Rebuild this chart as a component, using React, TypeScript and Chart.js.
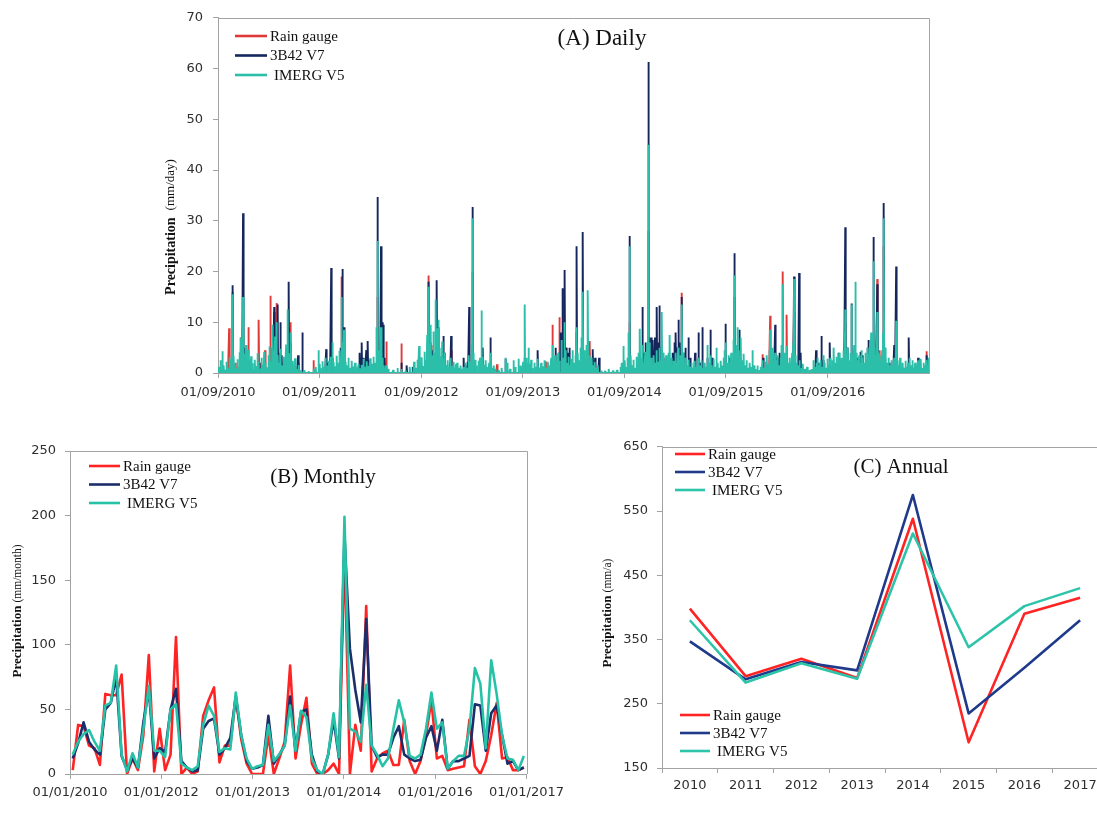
import { useEffect, useRef } from "react";
import { Chart, registerables } from "chart.js";

Chart.register(...registerables);

const SERIES_NAMES = ["Rain gauge", "3B42 V7", "IMERG V5"];

// ---------- (A) Daily: day index counted from 01/09/2010 ----------
const DAILY_DAYS = 2557;
const dailyTickDays = [0, 365, 731, 1096, 1461, 1826, 2192];
const dailyTickLabels = ["01/09/2010", "01/09/2011", "01/09/2012", "01/09/2013", "01/09/2014", "01/09/2015", "01/09/2016"];

// [day, mm/day] for rainy days; all other days are dry (0)
const gaugeDailyEvents: [number, number][] = [
  [40, 8.8], [44, 2.0], [53, 16.0], [64, 2.0], [81, 7.0], [90, 5.0], [110, 9.0], [118, 2.5], [147, 10.5], [152, 2.0],
  [169, 4.5], [189, 15.2], [196, 5.0], [202, 12.0], [211, 13.8], [216, 4.0], [255, 9.0], [260, 10.0], [290, 2.0],
  [343, 2.5], [407, 3.0], [444, 19.0], [574, 15.0], [605, 6.2], [660, 5.8], [756, 19.2], [769, 5.5], [787, 5.0],
  [838, 4.5], [915, 20.0], [948, 3.0], [1003, 1.7], [1103, 3.0], [1178, 2.3], [1184, 2.0], [1202, 9.5], [1227, 11.0],
  [1264, 2.5], [1290, 8.0], [1337, 6.3], [1480, 10.0], [1547, 28.0], [1668, 15.8], [1857, 15.0], [1957, 3.7],
  [1985, 11.3], [2031, 20.0], [2045, 11.5], [2071, 12.0], [2255, 10.0], [2370, 18.5], [2379, 4.5], [2394, 25.0],
  [2548, 4.3],
];

const trmmDailyEvents: [number, number][] = [
  [53, 17.3], [90, 31.5], [95, 5.0], [150, 2.0], [202, 13.0], [207, 5.0], [215, 13.5], [224, 10.0], [230, 3.5],
  [255, 18.0], [259, 6.0], [288, 3.5], [303, 8.0], [389, 4.7], [396, 2.0], [407, 20.7], [412, 3.0], [440, 5.0],
  [448, 20.5], [453, 9.0], [505, 1.5], [510, 4.0], [517, 6.0], [522, 3.0], [528, 2.0], [533, 4.5], [539, 6.3],
  [545, 2.5], [574, 34.7], [586, 25.0], [591, 10.0], [594, 9.5], [600, 3.0], [660, 2.0], [679, 1.5], [700, 1.2],
  [756, 18.0], [763, 6.0], [771, 4.5], [787, 18.3], [791, 9.0], [811, 7.3], [816, 4.0], [838, 7.3], [884, 3.0],
  [890, 1.5], [897, 2.2], [903, 13.0], [915, 32.7], [952, 5.0], [980, 7.0], [1035, 2.8], [1150, 4.5], [1208, 2.0],
  [1214, 5.0], [1226, 4.0], [1233, 8.0], [1238, 16.7], [1243, 6.0], [1247, 20.3], [1252, 5.0], [1258, 4.0],
  [1264, 5.0], [1290, 25.0], [1312, 27.8], [1348, 4.7], [1356, 3.0], [1370, 3.0], [1480, 27.0], [1526, 13.0],
  [1532, 4.0], [1538, 6.0], [1547, 61.3], [1551, 7.0], [1555, 5.0], [1559, 7.0], [1563, 6.5], [1567, 4.0],
  [1571, 7.0], [1575, 5.5], [1578, 13.0], [1583, 6.0], [1587, 13.3], [1592, 5.0], [1597, 4.0], [1602, 3.0],
  [1610, 2.0], [1620, 3.0], [1635, 4.0], [1641, 6.0], [1646, 8.0], [1650, 5.0], [1655, 10.5], [1660, 6.0],
  [1668, 15.0], [1675, 4.0], [1680, 5.0], [1691, 7.0], [1699, 3.0], [1715, 4.0], [1728, 8.0], [1735, 2.0],
  [1741, 9.0], [1760, 3.0], [1770, 8.5], [1778, 3.0], [1825, 9.7], [1840, 3.0], [1857, 23.6], [1875, 8.5],
  [1960, 3.0], [2003, 9.5], [2010, 3.0], [2020, 4.0], [2071, 19.0], [2089, 19.7], [2095, 4.0], [2150, 4.5],
  [2160, 2.0], [2170, 7.3], [2176, 2.5], [2200, 6.0], [2230, 4.0], [2255, 28.7], [2262, 5.0], [2278, 13.7],
  [2300, 3.0], [2310, 4.2], [2318, 3.5], [2336, 5.0], [2340, 6.5], [2357, 26.8], [2370, 17.5], [2394, 33.5],
  [2415, 2.0], [2431, 5.5], [2438, 21.0], [2484, 7.0], [2517, 3.0], [2548, 3.5],
];

const imergDailyEvents: [number, number][] = [
  [4, 1.2], [9, 2.5], [13, 0.8], [16, 4.3], [21, 1.5], [26, 0.6], [31, 2.2], [36, 1.0], [41, 3.1], [45, 0.7],
  [49, 2.6], [53, 15.5], [57, 3.4], [61, 1.8], [66, 0.9], [70, 2.7], [75, 1.3], [79, 4.1], [83, 7.0], [87, 2.4],
  [90, 15.0], [96, 3.8], [101, 5.5], [105, 2.1], [110, 4.6], [114, 1.2], [119, 3.3], [124, 1.9], [128, 0.8],
  [133, 2.6], [138, 1.4], [142, 3.9], [147, 2.2], [152, 0.9], [157, 3.0], [162, 1.6], [166, 4.2], [171, 2.0],
  [176, 1.1], [181, 3.5], [186, 5.2], [190, 2.3], [196, 9.5], [200, 4.4], [205, 7.2], [211, 10.0], [215, 3.6],
  [220, 2.0], [225, 4.8], [230, 1.5], [235, 3.2], [240, 2.7], [245, 5.6], [251, 12.5], [256, 3.9], [262, 8.0],
  [267, 2.4], [272, 1.1], [277, 2.9], [283, 0.8], [290, 1.6], [297, 0.6],
  [310, 0.5], [325, 0.4], [343, 0.8], [352, 1.2],
  [361, 4.5], [366, 1.8], [371, 0.9], [376, 2.3], [381, 1.2], [387, 3.0], [393, 1.5], [399, 2.4], [404, 3.2],
  [411, 6.0], [416, 2.1], [421, 1.3], [427, 3.4], [432, 2.0], [438, 4.4], [444, 15.0], [448, 6.0], [453, 8.5],
  [458, 2.2], [463, 1.5], [469, 3.0], [475, 1.0], [481, 2.4], [487, 1.3], [493, 2.0], [499, 1.1], [505, 1.8],
  [511, 0.9], [517, 1.6], [523, 2.8], [529, 1.2], [535, 2.3], [541, 1.4], [547, 2.9], [553, 1.8], [559, 3.2],
  [565, 2.0], [570, 9.0], [574, 26.0], [578, 4.5], [586, 9.0], [590, 3.0], [596, 1.5], [604, 1.5], [612, 0.8],
  [630, 0.6], [645, 1.0], [660, 0.8], [675, 0.5], [690, 1.2], [705, 2.2], [712, 1.0], [718, 2.6], [723, 5.3],
  [728, 2.0], [733, 3.1], [738, 1.4], [743, 4.2], [748, 2.5], [752, 7.5], [756, 17.0], [760, 5.8], [765, 9.5],
  [769, 3.5], [774, 8.2], [778, 4.0], [783, 14.5], [787, 6.0], [790, 8.8], [793, 10.5], [797, 5.0], [802, 3.3],
  [806, 6.2], [811, 2.8], [816, 4.0], [821, 1.6], [826, 2.5], [831, 1.2], [836, 3.0], [841, 1.4], [846, 2.2],
  [851, 0.9], [856, 1.8], [860, 2.0], [866, 1.0], [872, 1.5], [878, 0.8], [884, 1.2], [890, 2.0], [896, 1.0],
  [902, 3.5], [906, 2.2], [911, 5.5], [915, 30.5], [919, 4.0], [924, 2.6], [930, 1.5], [936, 2.4], [942, 3.0],
  [948, 12.3], [952, 3.2], [957, 1.6], [963, 2.5], [969, 1.2], [975, 2.0], [980, 4.0], [986, 1.0], [992, 1.5],
  [998, 0.8],
  [1010, 0.6], [1020, 1.0], [1035, 3.0], [1040, 2.0], [1050, 0.8], [1062, 2.5], [1070, 1.2], [1080, 2.8], [1088, 1.5],
  [1097, 2.2], [1103, 13.5], [1108, 3.0], [1112, 2.0], [1117, 5.0], [1121, 1.8], [1126, 2.6], [1131, 1.0],
  [1137, 2.0], [1143, 1.2], [1150, 2.8], [1156, 1.1], [1162, 2.0], [1168, 1.3], [1174, 2.5], [1180, 1.0],
  [1186, 2.2], [1192, 1.5], [1198, 3.0], [1202, 5.5], [1207, 2.0], [1212, 3.5], [1218, 1.8], [1223, 4.0],
  [1228, 2.4], [1235, 6.5], [1240, 3.0], [1246, 10.0], [1250, 4.5], [1255, 2.0], [1260, 3.2], [1265, 1.5],
  [1270, 2.8], [1275, 4.5], [1280, 2.0], [1285, 3.5], [1290, 9.0], [1294, 4.0], [1299, 2.5], [1304, 5.0],
  [1308, 7.0], [1312, 16.0], [1316, 4.5], [1320, 3.0], [1325, 5.5], [1330, 16.3], [1334, 3.5], [1339, 2.0],
  [1344, 3.0], [1349, 1.5], [1355, 2.2], [1360, 1.0], [1366, 1.5],
  [1378, 0.5], [1392, 0.4], [1405, 0.8], [1420, 0.5], [1435, 0.6], [1448, 1.2],
  [1452, 2.0], [1458, 5.3], [1463, 2.5], [1468, 1.2], [1473, 3.0], [1477, 8.0], [1480, 25.0], [1484, 3.5],
  [1489, 1.5], [1494, 2.6], [1499, 1.0], [1504, 3.2], [1509, 1.8], [1513, 4.0], [1517, 8.7], [1521, 3.0],
  [1526, 5.5], [1531, 2.0], [1536, 4.2], [1540, 2.5], [1543, 6.0], [1547, 45.0], [1552, 6.0], [1557, 3.0],
  [1562, 1.5], [1567, 3.5], [1572, 2.0], [1577, 4.5], [1582, 2.2], [1587, 5.0], [1592, 2.6], [1596, 12.0],
  [1601, 4.0], [1606, 2.0], [1611, 3.5], [1616, 1.8], [1620, 4.0], [1624, 7.5], [1629, 3.0], [1634, 1.5],
  [1639, 2.4], [1644, 4.0], [1649, 2.0], [1654, 5.0], [1659, 2.5], [1664, 3.5], [1668, 13.5], [1672, 4.0],
  [1677, 2.0], [1682, 3.0], [1687, 1.5], [1692, 2.6], [1697, 1.2], [1702, 2.0], [1708, 1.0], [1714, 2.4],
  [1720, 1.2], [1726, 3.0], [1732, 1.5], [1738, 2.5], [1744, 1.0], [1750, 2.0], [1755, 1.2], [1759, 5.5],
  [1765, 2.0], [1770, 3.5], [1775, 1.5], [1781, 2.8], [1786, 1.2], [1792, 5.0], [1797, 2.0], [1802, 1.0],
  [1808, 2.4], [1813, 1.5], [1818, 3.0], [1822, 4.5], [1825, 6.0], [1830, 2.0], [1835, 3.5], [1840, 1.8],
  [1845, 4.0], [1850, 2.5], [1854, 6.5], [1857, 19.2], [1861, 4.0], [1865, 5.5], [1869, 9.0], [1873, 3.0],
  [1877, 4.5], [1880, 7.0], [1885, 2.5], [1890, 3.8], [1895, 1.5], [1900, 2.5], [1906, 1.0], [1912, 2.0],
  [1918, 1.2], [1921, 4.5], [1927, 1.5], [1933, 0.8], [1940, 1.5], [1946, 0.6],
  [1952, 1.2], [1957, 2.5], [1962, 1.0], [1968, 2.2], [1973, 3.5], [1978, 1.8], [1982, 4.5], [1985, 8.5],
  [1989, 3.0], [1994, 5.0], [1998, 2.0], [2003, 4.0], [2007, 2.5], [2012, 3.5], [2017, 1.5], [2022, 3.0],
  [2027, 5.5], [2031, 17.5], [2035, 4.0], [2040, 2.5], [2045, 5.3], [2049, 2.0], [2054, 3.0], [2059, 1.5],
  [2064, 4.0], [2068, 6.0], [2071, 18.5], [2075, 3.5], [2080, 2.0], [2085, 1.5], [2091, 2.5], [2097, 1.0],
  [2103, 1.8], [2110, 0.8], [2118, 1.2], [2126, 0.6], [2134, 0.8],
  [2141, 2.5], [2146, 1.2], [2151, 2.0], [2156, 3.0], [2161, 1.5], [2166, 2.5], [2171, 1.2], [2176, 3.5],
  [2181, 2.0], [2186, 1.0], [2191, 2.8], [2196, 1.5], [2201, 3.0], [2206, 1.2], [2210, 2.5], [2214, 5.0],
  [2218, 2.0], [2223, 3.2], [2228, 1.5], [2233, 4.0], [2238, 2.2], [2243, 3.0], [2248, 4.5], [2252, 8.0],
  [2255, 12.5], [2259, 3.5], [2264, 5.0], [2268, 2.5], [2273, 4.0], [2278, 13.5], [2282, 3.0], [2287, 5.5],
  [2291, 18.0], [2295, 4.0], [2300, 2.5], [2305, 3.5], [2310, 2.0], [2314, 4.5], [2317, 3.0], [2322, 2.0],
  [2327, 4.0], [2332, 2.5], [2336, 5.0], [2340, 3.0], [2344, 6.0], [2348, 8.0], [2353, 7.5], [2357, 22.0],
  [2361, 5.0], [2366, 3.5], [2370, 12.0], [2374, 4.0], [2379, 3.5], [2383, 2.0], [2388, 4.5], [2391, 8.0],
  [2394, 30.5], [2398, 5.0], [2401, 3.5], [2406, 2.0], [2411, 3.0], [2416, 1.5], [2421, 2.5], [2426, 1.2],
  [2431, 3.0], [2435, 2.0], [2438, 10.3], [2442, 2.5], [2447, 1.5], [2452, 3.0], [2457, 1.2], [2462, 2.0],
  [2467, 1.0], [2472, 2.4], [2477, 1.2], [2481, 2.0], [2486, 3.0], [2491, 1.5], [2496, 2.5], [2501, 1.0],
  [2506, 2.0], [2511, 1.2], [2517, 2.5], [2522, 1.5], [2527, 2.8], [2532, 1.0], [2537, 2.0], [2542, 1.5],
  [2547, 2.6], [2552, 1.2], [2556, 3.0],
];

// ---------- (B) Monthly: Jan 2010 .. Dec 2016 ----------
const monthlyTickPos = [0, 16.8, 33.6, 50.4, 67.2, 84];
const monthlyTickLabels = ["01/01/2010", "01/01/2012", "01/01/2013", "01/01/2014", "01/01/2016", "01/01/2017"];
const gaugeMonthly = [
  3, 38, 37, 22, 20, 7, 62, 61, 61, 77, 0, 12, 3, 30, 92, 2, 35, 3, 15, 106, 0, 5, 0, 2, 45, 57, 67, 9,
  22, 22, 60, 27, 8, 0, 0, 0, 30, 0, 12, 25, 84, 12, 38, 59, 8, 0, 0, 3, 8, 0, 175, 0, 38, 18, 130, 2,
  12, 16, 18, 7, 7, 42, 10, 0, 10, 30, 57, 12, 14, 3, 4, 5, 6, 42, 6, 0, 10, 30, 55, 12, 13, 3, 3, 5,
];
const trmmMonthly = [
  12, 24, 40, 25, 19, 15, 50, 55, 75, 14, 3, 12, 5, 40, 65, 12, 20, 17, 50, 66, 10, 5, 2, 3, 35, 41, 43, 15,
  20, 28, 60, 30, 10, 4, 5, 7, 45, 8, 15, 22, 60, 18, 48, 50, 15, 2, 0, 15, 42, 12, 185, 97, 65, 40, 120, 22,
  13, 15, 15, 28, 37, 15, 12, 10, 11, 28, 37, 18, 42, 4, 10, 10, 12, 14, 54, 53, 18, 47, 53, 30, 8, 10, 3, 5,
];
const imergMonthly = [
  15, 25, 31, 34, 25, 18, 53, 55, 84, 15, 2, 16, 5, 35, 68, 18, 18, 13, 50, 54, 8, 5, 3, 6, 38, 53, 45, 17,
  20, 19, 63, 30, 12, 4, 6, 7, 38, 10, 15, 22, 53, 18, 49, 44, 12, 3, 0, 15, 47, 13, 199, 35, 33, 25, 69, 22,
  15, 6, 12, 35, 57, 40, 14, 12, 15, 35, 63, 35, 40, 4, 10, 14, 14, 35, 82, 70, 20, 88, 62, 30, 12, 11, 3, 14,
];

// ---------- (C) Annual ----------
const annualYears = ["2010", "2011", "2012", "2013", "2014", "2015", "2016", "2017"];
const gaugeAnnual = [398, 293, 320, 290, 538, 190, 390, 415];
const trmmAnnual = [347, 288, 315, 302, 575, 235, 306, 380];
const imergAnnual = [380, 283, 313, 289, 515, 338, 402, 430];

// ---------- styling ----------
const AXIS = "#a3a3a3";
const TICK_COLOR = "#2e2e2e";
const SERIF = '"Liberation Serif", "Times New Roman", serif';
const SANS = '"DejaVu Sans", Verdana, sans-serif';

const dailyColors = ["#df3a3a", "#14265c", "#2bbfa9"];
const monthlyColors = ["#ff2424", "#1b2d6b", "#26c2a8"];
const annualColors = ["#ff2424", "#1f3a8a", "#2ec4a9"];

type LegendSpec = { x: number; y: number; dy: number; len: number; gap: number; size: number; indent: number[] };
type DecorSpec = {
  title: { text: string; x: number; y: number; size: number };
  legends: LegendSpec[];
  colors: string[];
  yTitle: { x: number; y: number; unit: string; bold: number; normal: number; gap: number };
};

function panelDecor(spec: DecorSpec) {
  return {
    id: "panelDecor",
    afterDraw(chart: Chart) {
      const { ctx, chartArea: a } = chart;
      ctx.save();
      // top and right frame lines
      ctx.strokeStyle = AXIS;
      ctx.lineWidth = 1;
      ctx.beginPath();
      ctx.moveTo(a.left, Math.round(a.top) + 0.5);
      ctx.lineTo(Math.round(a.right) + 0.5, Math.round(a.top) + 0.5);
      ctx.lineTo(Math.round(a.right) + 0.5, a.bottom);
      ctx.stroke();

      // panel title
      ctx.fillStyle = "#111";
      ctx.font = `${spec.title.size}px ${SERIF}`;
      ctx.textAlign = "center";
      ctx.textBaseline = "middle";
      ctx.fillText(spec.title.text, spec.title.x, spec.title.y);

      // legend blocks
      for (const lg of spec.legends) {
        SERIES_NAMES.forEach((name, i) => {
          const y = lg.y + i * lg.dy;
          ctx.strokeStyle = spec.colors[i];
          ctx.lineWidth = 2.6;
          ctx.beginPath();
          ctx.moveTo(lg.x, y);
          ctx.lineTo(lg.x + lg.len, y);
          ctx.stroke();
          ctx.font = `${lg.size}px ${SERIF}`;
          ctx.textAlign = "left";
          ctx.fillStyle = "#111";
          ctx.fillText(name, lg.x + lg.len + lg.gap + lg.indent[i], y + 1);
        });
      }

      // y-axis title: bold word plus unit
      const t = spec.yTitle;
      ctx.translate(t.x, t.y);
      ctx.rotate(-Math.PI / 2);
      ctx.font = `bold ${t.bold}px ${SERIF}`;
      const wb = ctx.measureText("Precipitation").width;
      ctx.font = `${t.normal}px ${SERIF}`;
      const wn = ctx.measureText(t.unit).width;
      const start = -(wb + t.gap + wn) / 2;
      ctx.textAlign = "left";
      ctx.font = `bold ${t.bold}px ${SERIF}`;
      ctx.fillText("Precipitation", start, 0);
      ctx.font = `${t.normal}px ${SERIF}`;
      ctx.fillText(t.unit, start + wb + t.gap, 0);
      ctx.restore();
    },
  };
}

function axisGrid(len: number) {
  return { drawOnChartArea: false, drawTicks: true, tickLength: len, color: AXIS };
}

function expandDaily(events: [number, number][]) {
  const values = new Array(DAILY_DAYS).fill(0);
  for (const [d, v] of events) values[d] = v;
  return values.map((y, x) => ({ x, y }));
}

function lineSet(label: string, data: any, color: string, width: number, order: number, join: CanvasLineJoin) {
  return {
    label,
    data,
    borderColor: color,
    backgroundColor: color,
    borderWidth: width,
    pointRadius: 0,
    tension: 0,
    fill: false,
    order,
    borderJoinStyle: join,
  };
}

function dailyConfig(): any {
  return {
    type: "line",
    data: {
      datasets: [
        lineSet(SERIES_NAMES[2], expandDaily(imergDailyEvents), dailyColors[2], 1.9, 0, "bevel"),
        lineSet(SERIES_NAMES[1], expandDaily(trmmDailyEvents), dailyColors[1], 1.9, 1, "bevel"),
        lineSet(SERIES_NAMES[0], expandDaily(gaugeDailyEvents), dailyColors[0], 1.9, 2, "bevel"),
      ],
    },
    options: {
      animation: false,
      responsive: false,
      devicePixelRatio: 1,
      layout: { padding: { left: 0, top: 16, right: 21, bottom: 0 } },
      plugins: { legend: { display: false }, tooltip: { enabled: false } },
      scales: {
        x: {
          type: "linear",
          min: 0,
          max: DAILY_DAYS - 1,
          border: { display: true, color: AXIS },
          grid: axisGrid(5),
          ticks: {
            autoSkip: false,
            maxRotation: 0,
            padding: 7,
            color: TICK_COLOR,
            font: { family: SANS, size: 13 },
            callback: (_v: any, i: number) => dailyTickLabels[i],
          },
          afterBuildTicks: (s: any) => {
            s.ticks = dailyTickDays.map((value) => ({ value }));
          },
          afterFit: (s: any) => {
            s.height = 37;
          },
        },
        y: {
          min: 0,
          max: 70,
          border: { display: true, color: AXIS },
          grid: axisGrid(5),
          ticks: { stepSize: 10, padding: 10, color: TICK_COLOR, font: { family: SANS, size: 13 } },
          afterFit: (s: any) => {
            s.width = 68;
          },
        },
      },
    },
    plugins: [
      panelDecor({
        title: { text: "(A) Daily", x: 452, y: 39, size: 23 },
        legends: [{ x: 85, y: 36, dy: 19.5, len: 32, gap: 3, size: 15, indent: [0, 0, 4] }],
        colors: dailyColors,
        yTitle: { x: 21, y: 227, unit: "(mm/day)", bold: 14, normal: 13, gap: 7 },
      }),
    ],
  };
}

function monthlyConfig(): any {
  const pts = (arr: number[]) => arr.map((y, i) => ({ x: i + 0.5, y }));
  return {
    type: "line",
    data: {
      datasets: [
        lineSet(SERIES_NAMES[2], pts(imergMonthly), monthlyColors[2], 2.6, 0, "round"),
        lineSet(SERIES_NAMES[1], pts(trmmMonthly), monthlyColors[1], 2.6, 1, "round"),
        lineSet(SERIES_NAMES[0], pts(gaugeMonthly), monthlyColors[0], 2.6, 2, "round"),
      ],
    },
    options: {
      animation: false,
      responsive: false,
      devicePixelRatio: 1,
      layout: { padding: { left: 0, top: 21, right: 42, bottom: 0 } },
      plugins: { legend: { display: false }, tooltip: { enabled: false } },
      scales: {
        x: {
          type: "linear",
          min: 0,
          max: 84,
          border: { display: true, color: AXIS },
          grid: axisGrid(5),
          ticks: {
            autoSkip: false,
            maxRotation: 0,
            padding: 6,
            color: TICK_COLOR,
            font: { family: SANS, size: 13 },
            callback: (_v: any, i: number) => monthlyTickLabels[i],
          },
          afterBuildTicks: (s: any) => {
            s.ticks = monthlyTickPos.map((value) => ({ value }));
          },
          afterFit: (s: any) => {
            s.height = 40;
          },
        },
        y: {
          min: 0,
          max: 250,
          border: { display: true, color: AXIS },
          grid: axisGrid(5),
          ticks: { stepSize: 50, padding: 9, color: TICK_COLOR, font: { family: SANS, size: 13 } },
          afterFit: (s: any) => {
            s.width = 70;
          },
        },
      },
    },
    plugins: [
      panelDecor({
        title: { text: "(B) Monthly", x: 323, y: 47, size: 21 },
        legends: [{ x: 89, y: 36, dy: 18.5, len: 31, gap: 3, size: 15, indent: [0, 0, 4] }],
        colors: monthlyColors,
        yTitle: { x: 18, y: 181, unit: "(mm/month)", bold: 13, normal: 11.5, gap: 3 },
      }),
    ],
  };
}

function annualConfig(): any {
  return {
    type: "line",
    data: {
      labels: annualYears,
      datasets: [
        lineSet(SERIES_NAMES[2], imergAnnual, annualColors[2], 2.6, 0, "round"),
        lineSet(SERIES_NAMES[1], trmmAnnual, annualColors[1], 2.6, 1, "round"),
        lineSet(SERIES_NAMES[0], gaugeAnnual, annualColors[0], 2.6, 2, "round"),
      ],
    },
    options: {
      animation: false,
      responsive: false,
      devicePixelRatio: 1,
      layout: { padding: { left: 0, top: 13, right: 12, bottom: 0 } },
      plugins: { legend: { display: false }, tooltip: { enabled: false } },
      scales: {
        x: {
          type: "category",
          offset: true,
          border: { display: true, color: AXIS },
          grid: { ...axisGrid(5), offset: true },
          ticks: { padding: 5, maxRotation: 0, color: TICK_COLOR, font: { family: SANS, size: 13 } },
          afterFit: (s: any) => {
            s.height = 46;
          },
        },
        y: {
          min: 150,
          max: 650,
          border: { display: true, color: AXIS },
          grid: axisGrid(5),
          ticks: { stepSize: 100, padding: 9, color: TICK_COLOR, font: { family: SANS, size: 13 } },
          afterFit: (s: any) => {
            s.width = 82;
          },
        },
      },
    },
    plugins: [
      panelDecor({
        title: { text: "(C) Annual", x: 321, y: 37, size: 21 },
        legends: [
          { x: 95, y: 24, dy: 18, len: 30, gap: 3, size: 15, indent: [0, 0, 4] },
          { x: 100, y: 285, dy: 18, len: 30, gap: 3, size: 15, indent: [0, 0, 4] },
        ],
        colors: annualColors,
        yTitle: { x: 28, y: 183, unit: "(mm/a)", bold: 13, normal: 11.5, gap: 3 },
      }),
    ],
  };
}

function Panel(props: { left: number; top: number; width: number; height: number; make: () => any }) {
  const ref = useRef<HTMLCanvasElement>(null);
  useEffect(() => {
    const chart = new Chart(ref.current as HTMLCanvasElement, props.make());
    return () => chart.destroy();
  }, []);
  return (
    <canvas
      ref={ref}
      width={props.width}
      height={props.height}
      style={{ position: "absolute", left: props.left, top: props.top, width: props.width, height: props.height }}
    />
  );
}

export default function App() {
  return (
    <div
      style={{
        position: "fixed",
        left: 0,
        top: 0,
        width: 1097,
        height: 814,
        overflow: "hidden",
        background: "#ffffff",
      }}
    >
      <Panel left={150} top={0} width={800} height={410} make={dailyConfig} />
      <Panel left={0} top={430} width={570} height={384} make={monthlyConfig} />
      <Panel left={580} top={430} width={540} height={384} make={annualConfig} />
    </div>
  );
}
